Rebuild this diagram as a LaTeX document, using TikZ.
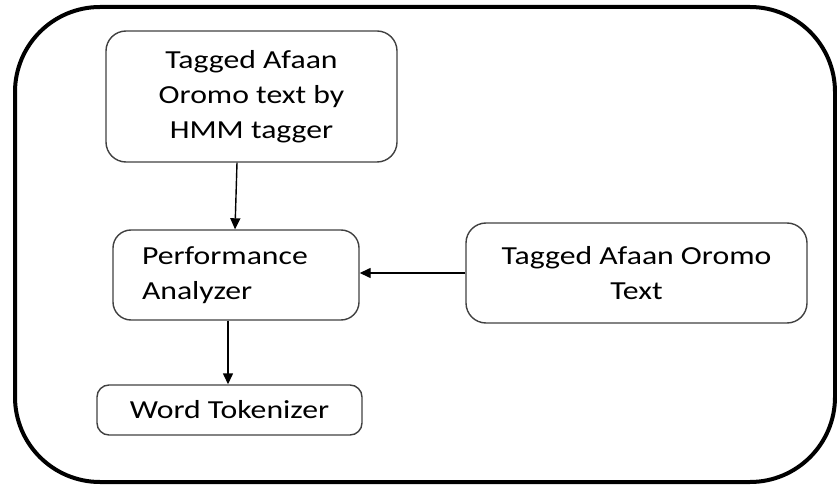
\documentclass[tikz,border=0pt]{standalone}
\usepackage{fontspec}
\setmainfont{Carlito}[FakeStretch=1.22]
\usetikzlibrary{arrows.meta}
\begin{document}
\begin{tikzpicture}[x=1pt,y=-1pt,
  box/.style={draw=black!75, line width=1.4pt, rounded corners=20pt, inner sep=0pt,
    font=\fontsize{26}{35}\selectfont, align=center},
  arr/.style={line width=1.4pt, -{Triangle[length=11pt,width=10pt]}}]
\useasboundingbox (0,0) rectangle (837,486);
\draw[line width=4pt, rounded corners=85pt] (15,7) rectangle (835,482);
\node[box, minimum width=291pt, minimum height=131pt] (b1) at (251.5,96.5)
  {Tagged Afaan\\Oromo text by\\HMM tagger};
\node[box, minimum width=246pt, minimum height=90pt, text width=188pt, align=left,
  inner xsep=29pt, rounded corners=18pt] (b2) at (236,275)
  {Performance\\Analyzer};
\node[box, minimum width=265pt, minimum height=50pt, rounded corners=12pt] (b3) at (229.5,410)
  {Word Tokenizer};
\node[box, minimum width=341pt, minimum height=100pt] (b4) at (636.5,273)
  {Tagged Afaan Oromo\\Text};
\draw[arr] ([xshift=-14.5pt]b1.south) -- ([xshift=-1pt]b2.north);
\draw[arr] ([xshift=-8pt]b2.south) -- ([xshift=-1.5pt]b3.north);
\draw[arr] (b4.west) -- (b4.west -| b2.east);
\end{tikzpicture}
\end{document}
